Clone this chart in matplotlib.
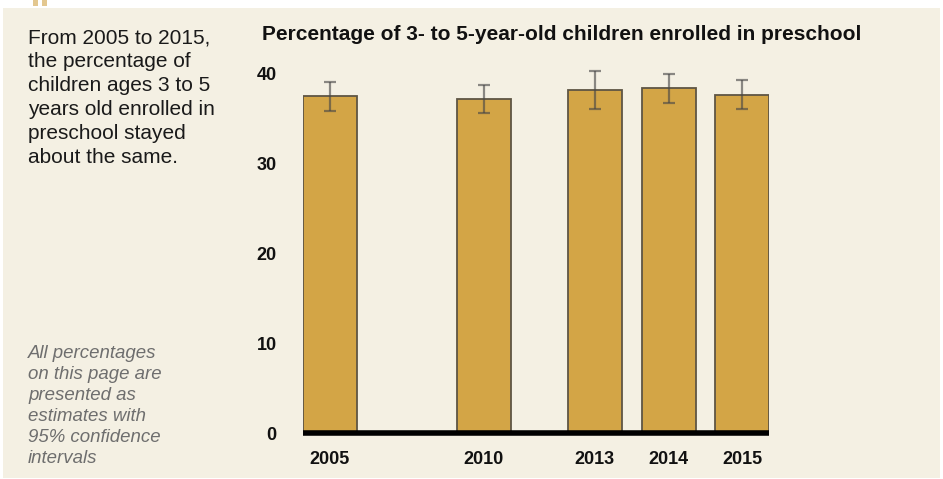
import matplotlib
matplotlib.use("Agg")
import matplotlib.pyplot as plt
from matplotlib.patches import Rectangle

years = ["2005", "2010", "2013", "2014", "2015"]
values = [37.4, 37.1, 38.1, 38.3, 37.6]
ci = [1.6, 1.55, 2.1, 1.6, 1.65]
yticks = [0, 10, 20, 30, 40]

title = "Percentage of 3- to 5-year-old children enrolled in preschool"
summary = ("From 2005 to 2015,\nthe percentage of\nchildren ages 3 to 5\n"
           "years old enrolled in\npreschool stayed\nabout the same.")
note = ("All percentages\non this page are\npresented as\nestimates with\n"
        "95% confidence\nintervals")

W, H = 943, 479
plt.rcParams["font.family"] = ["Liberation Sans", "DejaVu Sans"]
fig = plt.figure(figsize=(W / 100, H / 100), dpi=100, facecolor="white")

bg = "#F4F0E3"
fig.patches.append(Rectangle((3 / W, 1 - 478 / H), 937 / W, 470 / H,
                             transform=fig.transFigure, facecolor=bg,
                             edgecolor="none", zorder=-5))
for x0 in (33, 42):
    fig.patches.append(Rectangle((x0 / W, 1 - 6 / H), 5 / W, 6 / H,
                                 transform=fig.transFigure, facecolor="#E3C78F",
                                 edgecolor="none", zorder=-5))

# axes: x from 303 to 769 px, y0 at 433 px, top at 55 px (42 units)
left, right = 303, 769
y0, ytop = 433, 433 - 42 * 9.0
ax = fig.add_axes([left / W, 1 - y0 / H, (right - left) / W, (y0 - ytop) / H])
ax.patch.set_visible(False)

xpos = [0, 2.85, 4.9, 6.27, 7.63]
ax.bar(xpos, values, width=1.0, color="#D3A546", edgecolor="#5E5544",
       linewidth=1.3, zorder=2)
ax.errorbar(xpos, values, yerr=ci, fmt="none", ecolor="#474747", alpha=0.62,
            elinewidth=1.6, capsize=4, capthick=1.6, zorder=3)

ax.set_xlim(-0.5, 8.13)
ax.set_ylim(0, 42)
for s in ("top", "right", "left"):
    ax.spines[s].set_visible(False)
ax.spines["bottom"].set_linewidth(4)
ax.spines["bottom"].set_color("black")
ax.spines["bottom"].set_capstyle("butt")
ax.spines["bottom"].set_zorder(4)
ax.set_yticks(yticks)
ax.set_yticklabels([str(v) for v in yticks], fontsize=13, fontweight="bold",
                   color="#111111")
ax.set_xticks(xpos)
ax.set_xticklabels(years, fontsize=13, fontweight="bold", color="#111111")
ax.tick_params(axis="y", length=0, pad=19)
ax.tick_params(axis="x", length=0, pad=13)

fig.text(262 / W, 1 - 35 / H, title, fontsize=15, fontweight="bold",
         color="#111111", va="center", ha="left")
fig.text(28 / W, 1 - 28 / H, summary, fontsize=15, color="#1a1a1a",
         va="top", ha="left", linespacing=1.33)
fig.text(28 / W, 1 - 345 / H, note, fontsize=13.4, color="#6E6E6E",
         style="italic", va="top", ha="left", linespacing=1.31)

fig.savefig("out.png", dpi=100, facecolor="white")
